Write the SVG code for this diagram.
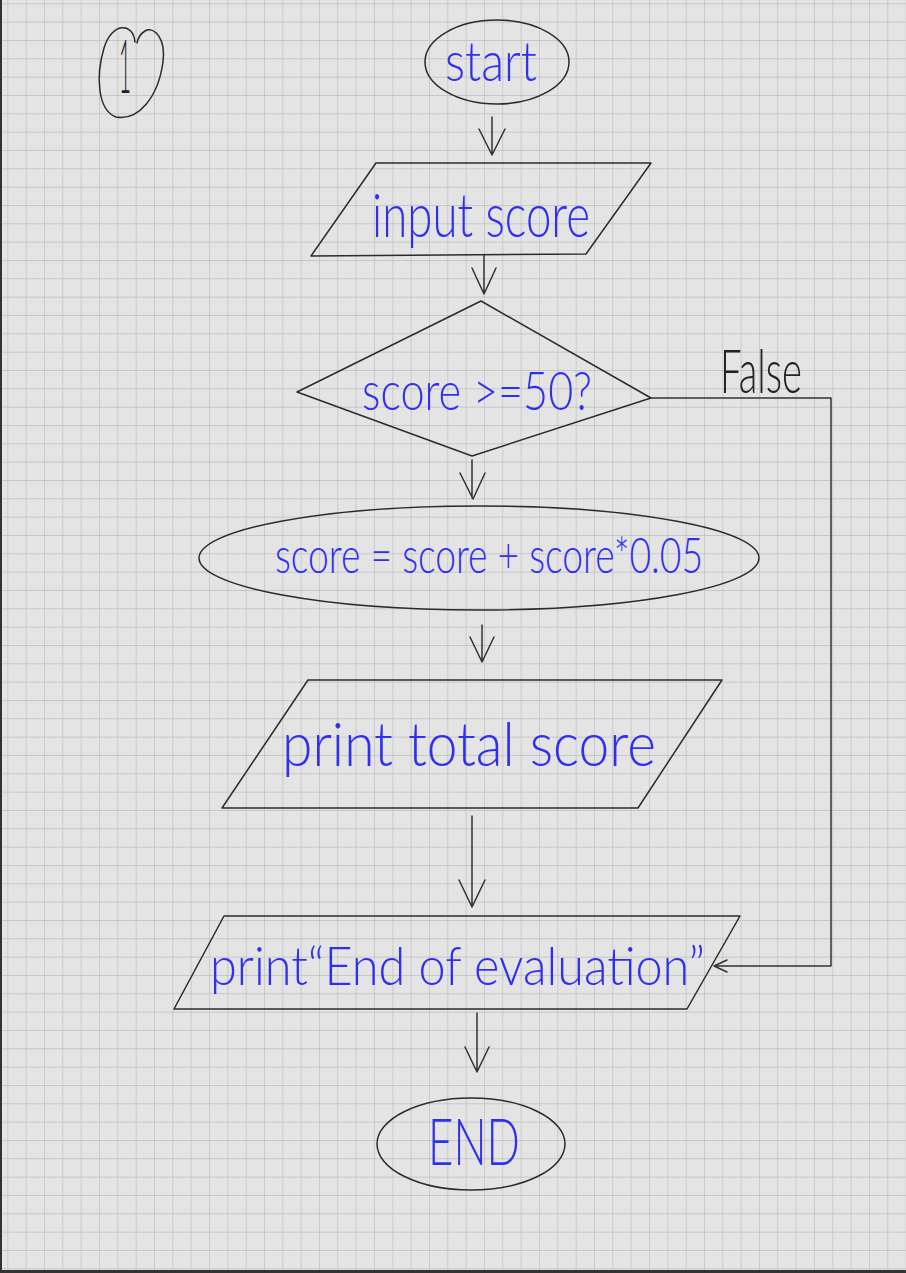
<svg xmlns="http://www.w3.org/2000/svg" width="906" height="1273" viewBox="0 0 906 1273">
<style>
.sh{fill:none;stroke:#2b2b2b;stroke-width:1.5;stroke-linejoin:round;stroke-linecap:round}
.cn{fill:none;stroke:#333;stroke-width:1.5;stroke-linecap:round;stroke-linejoin:round}
.t{font-family:Lato,"Liberation Sans",sans-serif;font-weight:300;fill:#2f2ff0;text-anchor:start}
.k{fill:#222}
</style>
<defs>
<pattern id="grid" x="7.33" y="3.33" width="18.333" height="18.333" patternUnits="userSpaceOnUse">
<path d="M0,0V18.333M0,0H18.333" fill="none" stroke="#bdbdbd" stroke-width="1.3"/>
</pattern>
</defs>
<rect width="906" height="1273" fill="#e4e4e4"/>
<rect width="906" height="1273" fill="url(#grid)"/>
<rect x="0" y="0" width="2" height="1273" fill="#333"/>
<rect x="0" y="1270" width="906" height="3" fill="#333"/>

<g id="logo">
<path class="sh" d="M135,42 C133,22 112,22 104,48 C96,75 97,110 116,117 C138,121 158,98 163,62 C166,38 154,26 145,31 C140,34 138,38 137,43"/>
<text class="t k" x="119" y="93" font-size="74" textLength="12" lengthAdjust="spacingAndGlyphs">1</text>
</g>

<g id="start">
<ellipse class="sh" cx="497" cy="62" rx="72" ry="42"/>
<text class="t" x="445" y="81" font-size="55" textLength="92" lengthAdjust="spacingAndGlyphs">start</text>
</g>

<g id="input">
<path class="sh" d="M376,163 L651,163 L586,254 L311,256 Z"/>
<text class="t" x="372" y="237" font-size="62" textLength="218" lengthAdjust="spacingAndGlyphs">input score</text>
</g>

<g id="decision">
<path class="sh" d="M481,301 L651,398 L472,456 L297,392 Z"/>
<text class="t" x="362" y="410" font-size="54" textLength="230" lengthAdjust="spacingAndGlyphs">score &gt;=50?</text>
</g>

<g id="calc">
<ellipse class="sh" cx="479" cy="558" rx="280" ry="52"/>
<text class="t" x="275" y="573" font-size="50" textLength="428" lengthAdjust="spacingAndGlyphs">score = score + score*0.05</text>
</g>

<g id="printtotal">
<path class="sh" d="M308,680 L722,680 L638,808 L222,808 Z"/>
<text class="t" x="282" y="766" font-size="62" textLength="374" lengthAdjust="spacingAndGlyphs">print total score</text>
</g>

<g id="printend">
<path class="sh" d="M224,916 L740,916 L687,1009 L174,1009 Z"/>
<text class="t" x="210" y="985" font-size="54" textLength="495" lengthAdjust="spacingAndGlyphs">print“End of evaluation”</text>
</g>

<g id="end">
<ellipse class="sh" cx="471" cy="1144" rx="94" ry="46"/>
<text class="t" x="428" y="1165" font-size="66" textLength="92" lengthAdjust="spacingAndGlyphs">END</text>
</g>

<g id="connectors">
<path class="cn" d="M492,117 V155 M479,129 L492,155 L505,129"/>
<path class="cn" d="M484,255 V294 M472,268 L484,294 L496,268"/>
<path class="cn" d="M472,460 V498 M460,473 L473,499 L485,473"/>
<path class="cn" d="M482,625 V662 M470,637 L482,662 L494,637"/>
<path class="cn" d="M472,816 V906 M459,880 L472,907 L485,880"/>
<path class="cn" d="M477,1013 V1072 M465,1047 L477,1072 L489,1047"/>
<path class="cn" d="M651,398 H831 V966 H714 M727,960 L714,966 L727,972"/>
<text class="t k" x="720" y="393" font-size="62" textLength="82" lengthAdjust="spacingAndGlyphs">False</text>
</g>
</svg>
